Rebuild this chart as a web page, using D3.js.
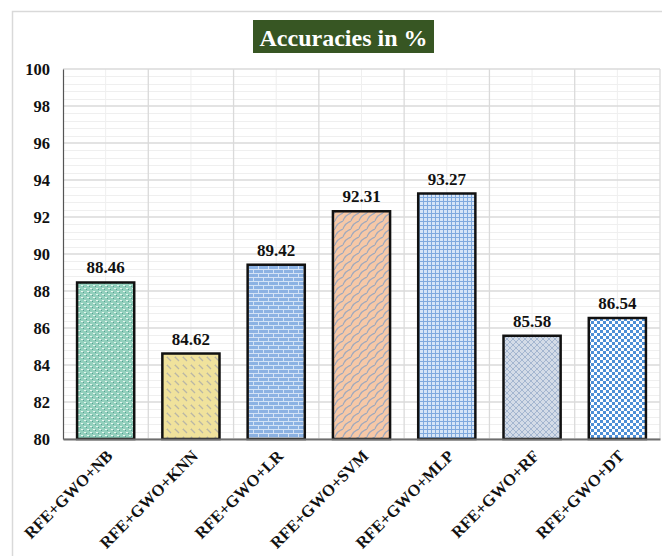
<!DOCTYPE html>
<html>
<head>
<meta charset="utf-8">
<script src="https://cdn.jsdelivr.net/npm/d3@7"></script>
<style>
  html, body { margin: 0; padding: 0; background: #fff; }
  svg { display: block; }
</style>
</head>
<body>
<svg id="chart" width="662" height="556"></svg>
<script>
// Model names and their accuracies (%)
const categories = ["RFE+GWO+NB", "RFE+GWO+KNN", "RFE+GWO+LR", "RFE+GWO+SVM", "RFE+GWO+MLP", "RFE+GWO+RF", "RFE+GWO+DT"];
const accuracies = [88.46, 84.62, 89.42, 92.31, 93.27, 85.58, 86.54];
const yTicks = [80, 82, 84, 86, 88, 90, 92, 94, 96, 98, 100];
const titleText = "Accuracies in %";

const svg = d3.select("#chart");
const W = 662, H = 556;
const margin = { left: 63, right: 2, top: 69, bottom: 117 };
const plotW = W - margin.left - margin.right;
const plotH = H - margin.top - margin.bottom;
const serif = "'Liberation Serif', 'Times New Roman', serif";

// ---- fill patterns for each bar ----
const defs = svg.append("defs");

function pattern(id, w, h, draw) {
  const p = defs.append("pattern").attr("id", id)
    .attr("patternUnits", "userSpaceOnUse").attr("width", w).attr("height", h);
  draw(p);
}
// NB: teal speckle
pattern("pNB", 6, 6, p => {
  p.append("rect").attr("width", 6).attr("height", 6).attr("fill", "#93d0bd");
  p.append("rect").attr("x", 0).attr("y", 0).attr("width", 2).attr("height", 1).attr("fill", "#e8f6f0");
  p.append("rect").attr("x", 3).attr("y", 3).attr("width", 2).attr("height", 1).attr("fill", "#e8f6f0");
  p.append("rect").attr("x", 2).attr("y", 1).attr("width", 1).attr("height", 1).attr("fill", "#5a9f95");
  p.append("rect").attr("x", 5).attr("y", 4).attr("width", 1).attr("height", 1).attr("fill", "#5a9f95");
});
// KNN: yellow with downward diagonal dashes
pattern("pKNN", 8, 8, p => {
  p.append("rect").attr("width", 8).attr("height", 8).attr("fill", "#f0e29c");
  p.append("path").attr("d", "M0,0 L4,4 M-1,7 L1,9 M7,-1 L9,1")
    .attr("stroke", "#b9b6a6").attr("stroke-width", 1.3);
});
// LR: horizontal brick
pattern("pLR", 10, 8, p => {
  p.append("rect").attr("width", 10).attr("height", 8).attr("fill", "#8cb2e3");
  p.append("path").attr("d", "M0,0.5 H10 M0,4.5 H10 M0.5,0.5 V4.5 M5.5,4.5 V8")
    .attr("stroke", "#d4e3f6").attr("stroke-width", 1);
});
// SVM: peach shingle
pattern("pSVM", 8, 8, p => {
  p.append("rect").attr("width", 8).attr("height", 8).attr("fill", "#f6c8a7");
  p.append("path").attr("d", "M0,8 Q2,2 8,0 M-8,8 Q-6,2 0,0 M8,8 Q10,2 16,0")
    .attr("fill", "none").attr("stroke", "#9fa9bd").attr("stroke-width", 1.2);
});
// MLP: small grid
pattern("pMLP", 4, 4, p => {
  p.append("rect").attr("width", 4).attr("height", 4).attr("fill", "#d6e5f7");
  p.append("path").attr("d", "M0,0.5 H4 M0.5,0 V4")
    .attr("stroke", "#7fa9de").attr("stroke-width", 1);
});
// RF: diagonal crosshatch
pattern("pRF", 6, 6, p => {
  p.append("rect").attr("width", 6).attr("height", 6).attr("fill", "#d3dbe7");
  p.append("path").attr("d", "M0,0 L6,6 M6,0 L0,6")
    .attr("stroke", "#a4b6d0").attr("stroke-width", 1);
});
// DT: small checkerboard
pattern("pDT", 6, 6, p => {
  p.append("rect").attr("width", 6).attr("height", 6).attr("fill", "#ffffff");
  p.append("rect").attr("x", 0).attr("y", 0).attr("width", 3).attr("height", 3).attr("fill", "#4d8fd6");
  p.append("rect").attr("x", 3).attr("y", 3).attr("width", 3).attr("height", 3).attr("fill", "#4d8fd6");
});
const fills = ["pNB", "pKNN", "pLR", "pSVM", "pMLP", "pRF", "pDT"];

// ---- outer frame ----
svg.append("rect").attr("x", 12.5).attr("y", 11.5).attr("width", 680).attr("height", 600)
  .attr("fill", "#fff").attr("stroke", "#d9d9d9").attr("stroke-width", 1.5);

const g = svg.append("g").attr("transform", `translate(${margin.left},${margin.top})`);

const x = d3.scaleBand().domain(categories).range([0, plotW]).paddingInner(0.33).paddingOuter(0.165);
const y = d3.scaleLinear().domain([80, 100]).range([plotH, 0]);
const band = plotW / categories.length;

// minor horizontal grid
const minor = d3.range(80, 100.001, 0.4).filter(v => Math.abs(v / 2 - Math.round(v / 2)) > 1e-6);
g.append("g").selectAll("line").data(minor).join("line")
  .attr("x1", 0).attr("x2", plotW)
  .attr("y1", d => Math.round(y(d)) + 0.5).attr("y2", d => Math.round(y(d)) + 0.5)
  .attr("stroke", "#efefef").attr("stroke-width", 1);
// minor vertical grid at category centers
g.append("g").selectAll("line").data(categories).join("line")
  .attr("x1", d => x(d) + x.bandwidth() / 2).attr("x2", d => x(d) + x.bandwidth() / 2)
  .attr("y1", 0).attr("y2", plotH)
  .attr("stroke", "#efefef").attr("stroke-width", 1);
// major horizontal grid
g.append("g").selectAll("line").data(yTicks).join("line")
  .attr("x1", 0).attr("x2", plotW)
  .attr("y1", d => y(d)).attr("y2", d => y(d))
  .attr("stroke", "#dadada").attr("stroke-width", 1.3);
// major vertical grid at category boundaries
g.append("g").selectAll("line").data(d3.range(1, categories.length + 1)).join("line")
  .attr("x1", d => d * band).attr("x2", d => d * band)
  .attr("y1", 0).attr("y2", plotH)
  .attr("stroke", "#dadada").attr("stroke-width", 1.3);

// y axis
const yAxis = g.append("g").call(d3.axisLeft(y).tickValues(yTicks).tickSize(0).tickPadding(13));
yAxis.select(".domain").attr("stroke", "#555").attr("stroke-width", 1.2);
yAxis.selectAll("text").attr("font-family", serif).attr("font-weight", "bold")
  .attr("font-size", 16.5).attr("fill", "#111");

// bars
g.append("g").selectAll("rect").data(accuracies).join("rect")
  .attr("x", (d, i) => x(categories[i]))
  .attr("y", d => y(d))
  .attr("width", x.bandwidth())
  .attr("height", d => plotH - y(d))
  .attr("fill", (d, i) => `url(#${fills[i]})`)
  .attr("stroke", "#111").attr("stroke-width", 2.5);

// value labels
g.append("g").selectAll("text").data(accuracies).join("text")
  .attr("x", (d, i) => x(categories[i]) + x.bandwidth() / 2)
  .attr("y", d => y(d) - 9)
  .attr("text-anchor", "middle")
  .attr("font-family", serif).attr("font-weight", "bold").attr("font-size", 17).attr("fill", "#111")
  .text(d => d.toFixed(2));

// x axis
const xAxis = g.append("g").attr("transform", `translate(0,${plotH})`)
  .call(d3.axisBottom(x).tickSize(0).tickPadding(0));
xAxis.select(".domain").attr("stroke", "#6e6e6e").attr("stroke-width", 2.2);
xAxis.selectAll("text")
  .attr("font-family", serif).attr("font-weight", "bold").attr("font-size", 16.5).attr("fill", "#111")
  .attr("text-anchor", "end")
  .attr("dy", null).attr("y", 0)
  .attr("transform", "translate(8,18) rotate(-45)");

// title
const tg = svg.append("g");
tg.append("rect").attr("x", 253).attr("y", 20).attr("width", 181).attr("height", 33).attr("fill", "#375623");
tg.append("text").attr("x", 343.5).attr("y", 45.5).attr("text-anchor", "middle")
  .attr("font-family", serif).attr("font-weight", "bold").attr("font-size", 24).attr("fill", "#fff")
  .text(titleText);
</script>
</body>
</html>
